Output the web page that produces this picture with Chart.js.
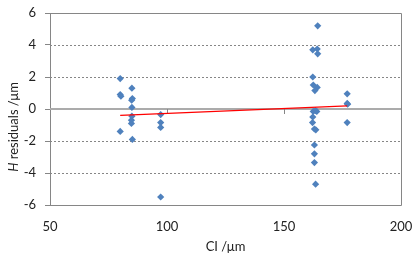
<!DOCTYPE html>
<html>
<head>
<meta charset="utf-8">
<script src="https://cdn.jsdelivr.net/npm/chart.js@4.4.1/dist/chart.umd.min.js"></script>
<style>
  body { margin: 0; background: #fff; }
  #wrap { width: 420px; height: 258px; }
</style>
</head>
<body>
<div id="wrap"><canvas id="grafico" width="420" height="258"></canvas></div>
<script>
// values
const ciValues = [
  80, 80, 80.3, 80,
  85, 85.2, 84.9, 85, 85, 84.8, 84.8, 85.2,
  97.3, 97.3, 97.3, 97.3,
  164.4, 162.3, 164.2, 164.4, 162.3, 162.5, 164.2, 163.2,
  162.5, 164, 163.4, 162.3, 162.2, 163, 163.6,
  163, 163, 163, 163.5,
  177, 177, 177.2, 177
];
const hResiduals = [
  1.9, 0.9, 0.8, -1.4,
  1.3, 0.65, 0.55, 0.1, -0.45, -0.7, -0.9, -1.9,
  -0.35, -0.85, -1.15, -5.5,
  5.2, 3.7, 3.75, 3.45, 2.0, 1.5, 1.35, 1.15,
  -0.15, -0.15, -0.1, -0.5, -0.85, -1.25, -1.3,
  -2.25, -2.8, -3.35, -4.7,
  0.95, 0.35, 0.3, -0.85
];
const trendX = [80, 177];
const trendY = [-0.4, 0.19];

const xMin = 50, xMax = 200, xStep = 50;
const yMin = -6, yMax = 6, yStep = 2;
const xTitle = "CI /μm";
const yTitleItalic = "H";
const yTitleRest = " residuals /μm";

const fonte = "Lato, 'Open Sans', sans-serif";
const cinza = "#868686";

// grade tracejada, linha do zero, bordas e titulo do eixo y
const gradePlugin = {
  id: "grade",
  beforeDatasetsDraw(chart) {
    const { ctx, chartArea: a, scales } = chart;
    const y = scales.y, x = scales.x;
    ctx.save();
    ctx.strokeStyle = cinza;
    ctx.lineWidth = 1;
    ctx.setLineDash([2, 2]);
    for (let v = yMin + yStep; v < yMax; v += yStep) {
      if (v === 0) continue;
      const py = Math.round(y.getPixelForValue(v)) + 0.5;
      ctx.beginPath();
      ctx.moveTo(a.left, py);
      ctx.lineTo(a.right, py);
      ctx.stroke();
    }
    ctx.setLineDash([]);
    // moldura
    ctx.beginPath();
    const top = Math.round(a.top) + 0.5, bot = Math.round(a.bottom) + 0.5;
    const rt = Math.round(a.right) + 0.5;
    ctx.moveTo(a.left, top);
    ctx.lineTo(rt, top);
    ctx.lineTo(rt, bot);
    ctx.lineTo(a.left, bot);
    ctx.stroke();
    // linha do zero
    const p0 = y.getPixelForValue(0);
    ctx.strokeStyle = "#ABABAB";
    ctx.lineWidth = 2;
    ctx.beginPath();
    ctx.moveTo(a.left, p0);
    ctx.lineTo(a.right, p0);
    ctx.stroke();
    // marcas no eixo x
    ctx.strokeStyle = cinza;
    ctx.lineWidth = 1;
    for (let v = xMin + xStep; v < xMax; v += xStep) {
      const px = Math.round(x.getPixelForValue(v)) + 0.5;
      ctx.beginPath();
      ctx.moveTo(px, p0);
      ctx.lineTo(px, p0 + 5);
      ctx.stroke();
    }
    ctx.restore();
  },
  afterDraw(chart) {
    const { ctx } = chart;
    ctx.save();
    ctx.fillStyle = "#222";
    ctx.textBaseline = "middle";
    const fIt = "italic 13px " + fonte;
    const fN = "13px " + fonte;
    ctx.font = fIt;
    const w1 = ctx.measureText(yTitleItalic).width;
    ctx.font = fN;
    const w2 = ctx.measureText(yTitleRest).width;
    ctx.translate(14, 127);
    ctx.rotate(-Math.PI / 2);
    const x0 = -(w1 + w2) / 2;
    ctx.font = fIt;
    ctx.fillText(yTitleItalic, x0, 0);
    ctx.font = fN;
    ctx.fillText(yTitleRest, x0 + w1, 0);
    ctx.restore();
  }
};

const pontos = ciValues.map((v, i) => ({ x: v, y: hResiduals[i] }));
const tendencia = trendX.map((v, i) => ({ x: v, y: trendY[i] }));

new Chart(document.getElementById("grafico").getContext("2d"), {
  type: "scatter",
  data: {
    datasets: [
      {
        type: "line",
        data: tendencia,
        borderColor: "#FF0000",
        borderWidth: 1.2,
        pointRadius: 0,
        fill: false,
        order: 0
      },
      {
        data: pontos,
        pointStyle: "rectRot",
        pointRadius: 3.6,
        backgroundColor: "#4F81BD",
        borderColor: "#4F81BD",
        borderWidth: 0,
        order: 1
      }
    ]
  },
  options: {
    responsive: false,
    animation: false,
    layout: { padding: { left: 0, top: 13, right: 19, bottom: 0 } },
    plugins: { legend: { display: false }, tooltip: { enabled: false } },
    scales: {
      x: {
        type: "linear",
        min: xMin,
        max: xMax,
        afterFit(s) { s.height = 53; s.paddingLeft = 0; s.paddingRight = 0; },
        grid: { display: false },
        border: { display: false },
        ticks: { stepSize: xStep, padding: 6, color: "#222", font: { family: fonte, size: 13 } },
        title: {
          display: true,
          text: xTitle,
          color: "#222",
          font: { family: fonte, size: 13 },
          padding: { top: 0, bottom: 3 }
        }
      },
      y: {
        type: "linear",
        min: yMin,
        max: yMax,
        afterFit(s) { s.width = 50; s.paddingTop = 0; s.paddingBottom = 0; },
        grid: { drawOnChartArea: false, drawTicks: true, tickLength: 5, tickColor: cinza, color: cinza },
        border: { display: true, color: cinza, width: 1 },
        ticks: { stepSize: yStep, padding: 9, color: "#222", font: { family: fonte, size: 13 } }
      }
    }
  },
  plugins: [gradePlugin]
});
</script>
</body>
</html>
